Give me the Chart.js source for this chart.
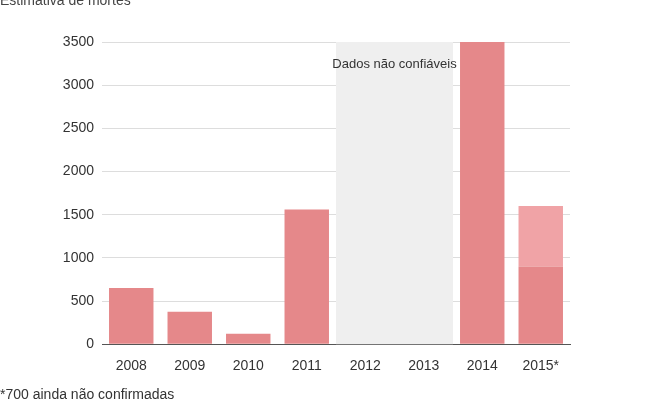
<!DOCTYPE html><html><head><style>body{margin:0;background:#fff;font-family:"Liberation Sans",Arial,sans-serif}
#t{position:absolute;left:0;top:-8px;font-size:14px;color:#444}#f{position:absolute;left:0;top:386px;font-size:14px;color:#333}
#w{position:absolute;left:0;top:0;width:652px;height:408px}</style>
<script src="https://cdn.jsdelivr.net/npm/chart.js"></script></head><body>
<div id="w"><canvas id="c"></canvas></div><div id="t">Estimativa de mortes</div><div id="f">*700 ainda não confirmadas</div>
<script>
const categories=["2008","2009","2010","2011","2012","2013","2014","2015*"];
const confirmed=[650,375,120,1560,null,null,3500,900];
const unconfirmed=[null,null,null,null,null,null,null,700];
const yTicks=[0,500,1000,1500,2000,2500,3000,3500];
const band={id:'band',beforeDatasetsDraw(ch){const x=ch.scales.x,a=ch.chartArea,c=ch.ctx;const w=x.getPixelForValue(1)-x.getPixelForValue(0);
const l=x.getPixelForValue(4)-w/2,r=x.getPixelForValue(5)+w/2;c.save();c.fillStyle='#efefef';c.fillRect(l,a.top,r-l,a.bottom-a.top);
c.fillStyle='#333';c.font='13px "Liberation Sans",Arial';c.textAlign='center';c.fillText('Dados não confiáveis',(l+r)/2,a.top+26);c.restore();}};
new Chart(document.getElementById('c'),{type:'bar',data:{labels:categories,datasets:[
{data:confirmed,backgroundColor:'#e5888a',barPercentage:0.76,categoryPercentage:1},
{data:unconfirmed,backgroundColor:'#f0a3a6',barPercentage:0.76,categoryPercentage:1}]},
options:{responsive:true,maintainAspectRatio:false,animation:false,layout:{padding:{top:42,right:82,bottom:27,left:0}},
plugins:{legend:{display:false},tooltip:{enabled:false}},
scales:{x:{stacked:true,grid:{display:false,drawTicks:true},border:{color:'#555'},ticks:{padding:6,color:'#333',font:{size:14,family:'"Liberation Sans",Arial'}}},
y:{stacked:true,min:0,max:3500,afterFit(s){s.width=102;},afterBuildTicks(s){s.ticks=yTicks.map(v=>({value:v}));},
grid:{color:'#ddd',drawTicks:false},border:{display:false},ticks:{padding:8,color:'#333',callback:v=>String(v),font:{size:14,family:'"Liberation Sans",Arial'}}}}},plugins:[band]});
</script></body></html>
